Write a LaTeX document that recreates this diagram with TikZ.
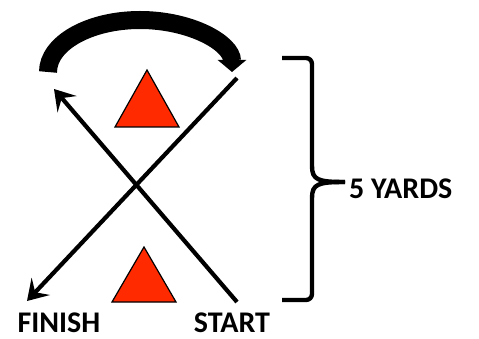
\documentclass[tikz,border=0pt]{standalone}
\usepackage{fontspec}
\setmainfont{Carlito}
\usetikzlibrary{arrows.meta,positioning}
\definecolor{ink}{HTML}{000000}
\definecolor{cone}{HTML}{FF2A00}
\tikzset{
  run/.style={-{Stealth[length=20pt,width=25pt,inset=8pt]},line width=4.2pt,ink},
  turn/.style={-{Triangle[length=12pt,width=28pt]},line width=18pt,ink},
  brk/.style={line width=4.4pt,ink,line join=round},
  conefill/.style={fill=cone,draw=ink,line width=1.2pt,line join=miter},
  lab/.style={font=\fontsize{30}{32}\selectfont\bfseries,text=ink,inner sep=0pt}
}

\begin{document}
\begin{tikzpicture}[x=1pt,y=-1pt]
\useasboundingbox (0,0) rectangle (479,339);
% ================= cones =================
\draw[conefill] (147,70) -- (179,127) -- (115,127) -- cycle;
\draw[conefill] (144,247) -- (176,302) -- (112,302) -- cycle;
% ================= points of the run =================
\coordinate (startpt) at (237,302);
\coordinate (turnpt) at (54,89);
\coordinate (backpt) at (237,78);
\coordinate (finishpt) at (27,301);
% ================= the run =================
\draw[run] (startpt) -- (turnpt);
\draw[run] (backpt) -- (finishpt);
\draw[turn] (48,72) arc[start angle=180,end angle=360,x radius=92,y radius=52];
% ================= labels =================
\node[lab] (finish) at (59,323) {FINISH};
\node[lab] (start) at (232,323) {START};
\node[lab,anchor=west] (yards) at (349,189) {5 YARDS};
% ================= brace =================
\draw[brk,rounded corners=6pt] (282,58) -- (312,58) -- (312,166);
\draw[brk] (312,166) .. controls (312,180) and (318,182) .. (345,182);
\draw[brk] (345,182) .. controls (318,182) and (312,184) .. (312,198);
\draw[brk,rounded corners=6pt] (312,198) -- (312,300) -- (282,300);
\end{tikzpicture}
\end{document}
